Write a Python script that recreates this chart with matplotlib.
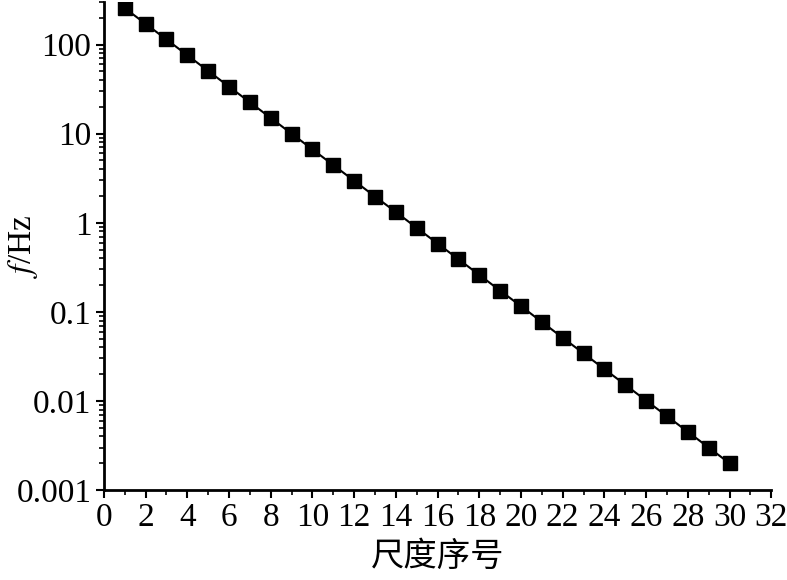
import numpy as np
from matplotlib import pyplot as plt
from matplotlib.ticker import MultipleLocator, LogLocator, FixedLocator

plt.rcParams['font.family'] = ['Liberation Serif', 'Noto Sans CJK SC', 'DejaVu Sans']
plt.rcParams['mathtext.fontset'] = 'stix'

# scale index and frequency
scale_idx = list(range(1, 31))
freq_hz = [256, 171, 114, 76, 50.6, 33.7, 22.5, 15.0, 10.0, 6.66,
           4.44, 2.96, 1.97, 1.32, 0.877, 0.585, 0.390, 0.260, 0.173, 0.116,
           0.0770, 0.0513, 0.0342, 0.0228, 0.0152, 0.0101, 0.00676, 0.00451, 0.00300, 0.00200]

y_ticks = [0.001, 0.01, 0.1, 1, 10, 100]
y_tick_labels = ['0.001', '0.01', '0.1', '1', '10', '100']

fig = plt.figure(figsize=(7.87, 5.8), dpi=100)
ax = fig.add_axes([0.132, 0.155, 0.848, 0.8415])

ax.plot(scale_idx, freq_hz, '-', color='black', lw=1.5,
        marker='s', markersize=10, markerfacecolor='black', markeredgecolor='black')

ax.set_yscale('log')
ax.set_xlim(0, 32)
ax.set_ylim(0.001, 300)

ax.xaxis.set_major_locator(MultipleLocator(2))
ax.xaxis.set_minor_locator(MultipleLocator(1))
ax.yaxis.set_major_locator(FixedLocator(y_ticks))
ax.set_yticklabels(y_tick_labels)
ax.yaxis.set_minor_locator(LogLocator(base=10, subs=np.arange(2, 10)))

for side in ['top', 'right']:
    ax.spines[side].set_visible(False)
for side in ['left', 'bottom']:
    ax.spines[side].set_linewidth(2)

ax.tick_params(which='major', direction='out', length=6, width=1.5, labelsize=24, pad=3)
ax.tick_params(which='minor', direction='out', length=3.5, width=1.2)

ax.set_xlabel('尺度序号', fontsize=24, family=['Noto Sans CJK SC', 'DejaVu Sans'], labelpad=4)
ax.set_ylabel(r'$\mathit{f}$/Hz', fontsize=24)
ax.yaxis.set_label_coords(-0.095, 0.5)

fig.savefig('out.png', dpi=100)
